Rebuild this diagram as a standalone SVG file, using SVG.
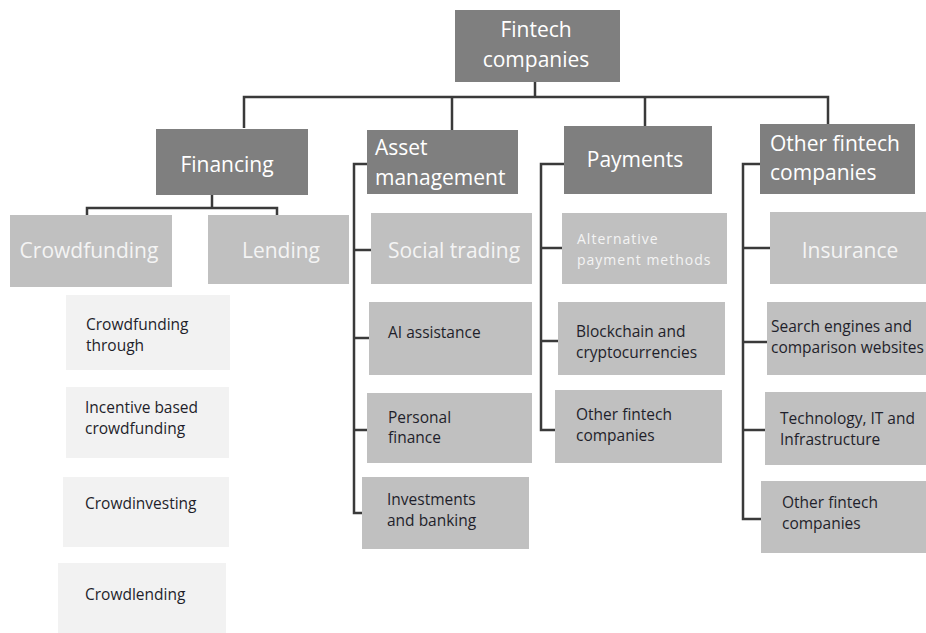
<svg xmlns="http://www.w3.org/2000/svg" width="926" height="633" viewBox="0 0 926 633">
  <style>
    .dark { fill: #7f7f7f; }
    .mid { fill: #c0c0c0; }
    .light { fill: #f2f2f2; }
    .big { font-family: "Open Sans", "Liberation Sans", sans-serif; font-size: 21px; fill: #ffffff; }
    .bigc { font-family: "Open Sans", "Liberation Sans", sans-serif; font-size: 21px; fill: #ffffff; text-anchor: middle; }
    .midc { font-family: "Open Sans", "Liberation Sans", sans-serif; font-size: 21px; fill: #f4f4f4; text-anchor: middle; }
    .small { font-family: "Open Sans", "Liberation Sans", sans-serif; font-size: 15.5px; fill: #1f1f2b; }
    .smallw { font-family: "Open Sans", "Liberation Sans", sans-serif; font-size: 14px; fill: #f4f4f4; letter-spacing: 1px; }
    .conn { fill: none; stroke: #3a3a3a; stroke-width: 2.5; }
  </style>

  <!-- connectors -->
  <g id="connectors" class="conn">
    <path d="M535 82 V97"/>
    <path d="M244 128 V97 H828 V124"/>
    <path d="M452 97 V130"/>
    <path d="M645 97 V126"/>
    <!-- financing bracket -->
    <path d="M212 195 V208"/>
    <path d="M87 217 V208 H277 V217"/>
    <!-- asset management spine -->
    <path d="M367 164 H354 V513 H362"/>
    <path d="M354 250 H371"/>
    <path d="M354 338 H369"/>
    <path d="M354 430 H367"/>
    <!-- payments spine -->
    <path d="M564 164 H541 V430 H555"/>
    <path d="M541 248 H562"/>
    <path d="M541 341 H558"/>
    <!-- other fintech spine -->
    <path d="M760 164 H743 V519 H761"/>
    <path d="M743 248 H770"/>
    <path d="M743 342 H767"/>
    <path d="M743 430 H765"/>
  </g>

  <!-- root -->
  <g id="fintech-companies">
    <rect class="dark" x="455" y="10" width="165" height="72"/>
    <text class="bigc" x="536" y="37">Fintech</text>
    <text class="bigc" x="536" y="67">companies</text>
  </g>

  <!-- level 1 -->
  <g id="financing">
    <rect class="dark" x="156" y="129" width="152" height="66"/>
    <text class="bigc" x="227" y="172">Financing</text>
  </g>
  <g id="asset-management">
    <rect class="dark" x="367" y="130" width="151" height="64"/>
    <text class="big" x="375" y="155">Asset</text>
    <text class="big" x="375" y="185">management</text>
  </g>
  <g id="payments">
    <rect class="dark" x="564" y="126" width="148" height="68"/>
    <text class="bigc" x="635" y="167">Payments</text>
  </g>
  <g id="other-fintech">
    <rect class="dark" x="760" y="124" width="155" height="70"/>
    <text class="big" x="770" y="151">Other fintech</text>
    <text class="big" x="770" y="180">companies</text>
  </g>

  <!-- financing children -->
  <g id="crowdfunding">
    <rect class="mid" x="10" y="215" width="162" height="72"/>
    <text class="midc" x="89" y="258">Crowdfunding</text>
  </g>
  <g id="lending">
    <rect class="mid" x="208" y="215" width="141" height="69"/>
    <text class="midc" x="281" y="258">Lending</text>
  </g>

  <!-- crowdfunding types -->
  <g id="crowdfunding-through">
    <rect class="light" x="66" y="295" width="164" height="75"/>
    <text class="small" x="86" y="330">Crowdfunding</text>
    <text class="small" x="86" y="351">through</text>
  </g>
  <g id="incentive-based">
    <rect class="light" x="66" y="387" width="163" height="71"/>
    <text class="small" x="85" y="413">Incentive based</text>
    <text class="small" x="85" y="434">crowdfunding</text>
  </g>
  <g id="crowdinvesting">
    <rect class="light" x="63" y="477" width="166" height="70"/>
    <text class="small" x="85" y="509">Crowdinvesting</text>
  </g>
  <g id="crowdlending">
    <rect class="light" x="58" y="563" width="168" height="70"/>
    <text class="small" x="85" y="600">Crowdlending</text>
  </g>

  <!-- asset management children -->
  <g id="social-trading">
    <rect class="mid" x="371" y="213" width="161" height="71"/>
    <text class="midc" x="454" y="258">Social trading</text>
  </g>
  <g id="ai-assistance">
    <rect class="mid" x="369" y="302" width="163" height="73"/>
    <text class="small" x="388" y="338">AI assistance</text>
  </g>
  <g id="personal-finance">
    <rect class="mid" x="367" y="393" width="165" height="70"/>
    <text class="small" x="388" y="423">Personal</text>
    <text class="small" x="388" y="443">finance</text>
  </g>
  <g id="investments-banking">
    <rect class="mid" x="362" y="477" width="167" height="72"/>
    <text class="small" x="387" y="505">Investments</text>
    <text class="small" x="387" y="526">and banking</text>
  </g>

  <!-- payments children -->
  <g id="alternative-payment">
    <rect class="mid" x="562" y="213" width="165" height="71"/>
    <text class="smallw" x="577" y="244">Alternative</text>
    <text class="smallw" x="577" y="265">payment methods</text>
  </g>
  <g id="blockchain">
    <rect class="mid" x="558" y="302" width="167" height="73"/>
    <text class="small" x="576" y="337">Blockchain and</text>
    <text class="small" x="576" y="358">cryptocurrencies</text>
  </g>
  <g id="payments-other">
    <rect class="mid" x="555" y="390" width="167" height="73"/>
    <text class="small" x="576" y="420">Other fintech</text>
    <text class="small" x="576" y="441">companies</text>
  </g>

  <!-- other fintech children -->
  <g id="insurance">
    <rect class="mid" x="770" y="212" width="160" height="72"/>
    <text class="midc" x="850" y="258">Insurance</text>
  </g>
  <g id="search-engines">
    <rect class="mid" x="767" y="302" width="163" height="73"/>
    <text class="small" x="771" y="332">Search engines and</text>
    <text class="small" x="771" y="353">comparison websites</text>
  </g>
  <g id="technology">
    <rect class="mid" x="765" y="392" width="165" height="73"/>
    <text class="small" x="780" y="424">Technology, IT and</text>
    <text class="small" x="780" y="445">Infrastructure</text>
  </g>
  <g id="other-fintech-other">
    <rect class="mid" x="761" y="481" width="169" height="72"/>
    <text class="small" x="782" y="508">Other fintech</text>
    <text class="small" x="782" y="529">companies</text>
  </g>
</svg>
